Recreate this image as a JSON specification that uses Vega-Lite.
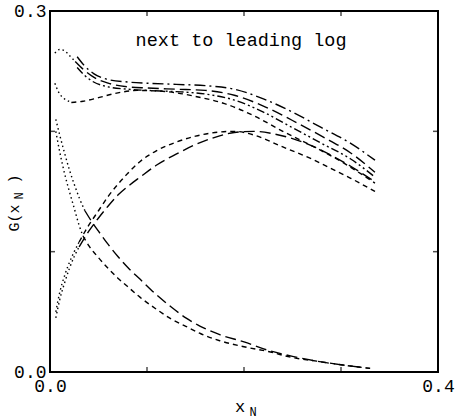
{
  "$schema": "https://vega.github.io/schema/vega-lite/v6.json",
  "autosize": {"type": "none"},
  "width": 388,
  "height": 361,
  "padding": {"left": 50, "top": 11, "right": 17, "bottom": 47},
  "background": "white",
  "config": {
    "view": {"stroke": "black", "strokeWidth": 2},
    "axis": {
      "domain": false,
      "grid": false,
      "ticks": false,
      "labelFont": "Liberation Mono",
      "labelFontSize": 18,
      "labelColor": "black",
      "labelFlush": false,
      "labelOverlap": false
    },
    "text": {"font": "Liberation Mono", "color": "black"}
  },
  "datasets": {
    "xTicks": [{"t": 0.1, "edge": 0}, {"t": 0.2, "edge": 0}, {"t": 0.3, "edge": 0}, {"t": 0.1, "edge": 0.3}, {"t": 0.2, "edge": 0.3}, {"t": 0.3, "edge": 0.3}],
    "yTicks": [{"t": 0.1, "edge": 0}, {"t": 0.2, "edge": 0}, {"t": 0.1, "edge": 0.4}, {"t": 0.2, "edge": 0.4}],
    "curves": [
      {"seg": "U1", "style": "dashdot", "x": 0.028, "y": 0.262},
      {"seg": "U1", "style": "dashdot", "x": 0.035, "y": 0.255},
      {"seg": "U1", "style": "dashdot", "x": 0.045, "y": 0.248},
      {"seg": "U1", "style": "dashdot", "x": 0.06, "y": 0.243},
      {"seg": "U1", "style": "dashdot", "x": 0.08, "y": 0.241},
      {"seg": "U1", "style": "dashdot", "x": 0.1, "y": 0.24},
      {"seg": "U1", "style": "dashdot", "x": 0.13, "y": 0.239},
      {"seg": "U1", "style": "dashdot", "x": 0.16, "y": 0.238},
      {"seg": "U1", "style": "dashdot", "x": 0.19, "y": 0.235},
      {"seg": "U1", "style": "dashdot", "x": 0.22, "y": 0.227},
      {"seg": "U1", "style": "dashdot", "x": 0.25, "y": 0.216},
      {"seg": "U1", "style": "dashdot", "x": 0.28, "y": 0.203},
      {"seg": "U1", "style": "dashdot", "x": 0.31, "y": 0.19},
      {"seg": "U1", "style": "dashdot", "x": 0.335, "y": 0.176},

      {"seg": "U2a", "style": "dot", "x": 0.005, "y": 0.265},
      {"seg": "U2a", "style": "dot", "x": 0.01, "y": 0.268},
      {"seg": "U2a", "style": "dot", "x": 0.015, "y": 0.267},
      {"seg": "U2a", "style": "dot", "x": 0.02, "y": 0.263},
      {"seg": "U2a", "style": "dot", "x": 0.026, "y": 0.258},
      {"seg": "U2b", "style": "long", "x": 0.026, "y": 0.258},
      {"seg": "U2b", "style": "long", "x": 0.035, "y": 0.251},
      {"seg": "U2b", "style": "long", "x": 0.045, "y": 0.245},
      {"seg": "U2b", "style": "long", "x": 0.06, "y": 0.24},
      {"seg": "U2b", "style": "long", "x": 0.08, "y": 0.237},
      {"seg": "U2b", "style": "long", "x": 0.1, "y": 0.236},
      {"seg": "U2b", "style": "long", "x": 0.13, "y": 0.235},
      {"seg": "U2b", "style": "long", "x": 0.16, "y": 0.234},
      {"seg": "U2b", "style": "long", "x": 0.19, "y": 0.23},
      {"seg": "U2b", "style": "long", "x": 0.22, "y": 0.221},
      {"seg": "U2b", "style": "long", "x": 0.25, "y": 0.209},
      {"seg": "U2b", "style": "long", "x": 0.28, "y": 0.196},
      {"seg": "U2b", "style": "long", "x": 0.31, "y": 0.182},
      {"seg": "U2b", "style": "long", "x": 0.335, "y": 0.166},

      {"seg": "U3", "style": "dashdotdot", "x": 0.028, "y": 0.253},
      {"seg": "U3", "style": "dashdotdot", "x": 0.035, "y": 0.247},
      {"seg": "U3", "style": "dashdotdot", "x": 0.045, "y": 0.241},
      {"seg": "U3", "style": "dashdotdot", "x": 0.06, "y": 0.237},
      {"seg": "U3", "style": "dashdotdot", "x": 0.08, "y": 0.235},
      {"seg": "U3", "style": "dashdotdot", "x": 0.1, "y": 0.234},
      {"seg": "U3", "style": "dashdotdot", "x": 0.13, "y": 0.233},
      {"seg": "U3", "style": "dashdotdot", "x": 0.16, "y": 0.231},
      {"seg": "U3", "style": "dashdotdot", "x": 0.19, "y": 0.226},
      {"seg": "U3", "style": "dashdotdot", "x": 0.22, "y": 0.216},
      {"seg": "U3", "style": "dashdotdot", "x": 0.25, "y": 0.203},
      {"seg": "U3", "style": "dashdotdot", "x": 0.28, "y": 0.19},
      {"seg": "U3", "style": "dashdotdot", "x": 0.31, "y": 0.177},
      {"seg": "U3", "style": "dashdotdot", "x": 0.335, "y": 0.162},

      {"seg": "U4a", "style": "dot", "x": 0.005, "y": 0.24},
      {"seg": "U4a", "style": "dot", "x": 0.008, "y": 0.234},
      {"seg": "U4a", "style": "dot", "x": 0.012, "y": 0.229},
      {"seg": "U4a", "style": "dot", "x": 0.017, "y": 0.226},
      {"seg": "U4a", "style": "dot", "x": 0.022, "y": 0.224},
      {"seg": "U4b", "style": "short", "x": 0.022, "y": 0.224},
      {"seg": "U4b", "style": "short", "x": 0.034, "y": 0.225},
      {"seg": "U4b", "style": "short", "x": 0.05, "y": 0.228},
      {"seg": "U4b", "style": "short", "x": 0.07, "y": 0.232},
      {"seg": "U4b", "style": "short", "x": 0.09, "y": 0.234},
      {"seg": "U4b", "style": "short", "x": 0.12, "y": 0.233},
      {"seg": "U4b", "style": "short", "x": 0.15, "y": 0.229},
      {"seg": "U4b", "style": "short", "x": 0.18, "y": 0.223},
      {"seg": "U4b", "style": "short", "x": 0.21, "y": 0.213},
      {"seg": "U4b", "style": "short", "x": 0.24, "y": 0.2},
      {"seg": "U4b", "style": "short", "x": 0.27, "y": 0.188},
      {"seg": "U4b", "style": "short", "x": 0.3, "y": 0.175},
      {"seg": "U4b", "style": "short", "x": 0.335, "y": 0.157},

      {"seg": "M1a", "style": "dot", "x": 0.006, "y": 0.05},
      {"seg": "M1a", "style": "dot", "x": 0.01, "y": 0.066},
      {"seg": "M1a", "style": "dot", "x": 0.015, "y": 0.08},
      {"seg": "M1a", "style": "dot", "x": 0.02, "y": 0.091},
      {"seg": "M1a", "style": "dot", "x": 0.025, "y": 0.1},
      {"seg": "M1a", "style": "dot", "x": 0.03, "y": 0.108},
      {"seg": "M1b", "style": "short", "x": 0.03, "y": 0.108},
      {"seg": "M1b", "style": "short", "x": 0.04, "y": 0.122},
      {"seg": "M1b", "style": "short", "x": 0.05, "y": 0.134},
      {"seg": "M1b", "style": "short", "x": 0.06, "y": 0.146},
      {"seg": "M1b", "style": "short", "x": 0.07, "y": 0.156},
      {"seg": "M1b", "style": "short", "x": 0.08, "y": 0.165},
      {"seg": "M1b", "style": "short", "x": 0.093, "y": 0.175},
      {"seg": "M1b", "style": "short", "x": 0.11, "y": 0.184},
      {"seg": "M1b", "style": "short", "x": 0.13, "y": 0.191},
      {"seg": "M1b", "style": "short", "x": 0.15, "y": 0.196},
      {"seg": "M1b", "style": "short", "x": 0.17, "y": 0.199},
      {"seg": "M1b", "style": "short", "x": 0.19, "y": 0.2},
      {"seg": "M1b", "style": "short", "x": 0.21, "y": 0.197},
      {"seg": "M1b", "style": "short", "x": 0.24, "y": 0.187},
      {"seg": "M1b", "style": "short", "x": 0.27, "y": 0.177},
      {"seg": "M1b", "style": "short", "x": 0.29, "y": 0.169},
      {"seg": "M1b", "style": "short", "x": 0.31, "y": 0.161},
      {"seg": "M1b", "style": "short", "x": 0.335, "y": 0.15},

      {"seg": "M2a", "style": "dot", "x": 0.006, "y": 0.045},
      {"seg": "M2a", "style": "dot", "x": 0.01, "y": 0.06},
      {"seg": "M2a", "style": "dot", "x": 0.015, "y": 0.074},
      {"seg": "M2a", "style": "dot", "x": 0.02, "y": 0.086},
      {"seg": "M2a", "style": "dot", "x": 0.025, "y": 0.096},
      {"seg": "M2a", "style": "dot", "x": 0.03, "y": 0.104},
      {"seg": "M2b", "style": "long", "x": 0.03, "y": 0.104},
      {"seg": "M2b", "style": "long", "x": 0.04, "y": 0.117},
      {"seg": "M2b", "style": "long", "x": 0.05, "y": 0.128},
      {"seg": "M2b", "style": "long", "x": 0.06, "y": 0.138},
      {"seg": "M2b", "style": "long", "x": 0.07, "y": 0.147},
      {"seg": "M2b", "style": "long", "x": 0.08, "y": 0.154},
      {"seg": "M2b", "style": "long", "x": 0.093, "y": 0.162},
      {"seg": "M2b", "style": "long", "x": 0.11, "y": 0.172},
      {"seg": "M2b", "style": "long", "x": 0.13, "y": 0.181},
      {"seg": "M2b", "style": "long", "x": 0.15, "y": 0.189},
      {"seg": "M2b", "style": "long", "x": 0.17, "y": 0.195},
      {"seg": "M2b", "style": "long", "x": 0.19, "y": 0.199},
      {"seg": "M2b", "style": "long", "x": 0.21, "y": 0.2},
      {"seg": "M2b", "style": "long", "x": 0.23, "y": 0.198},
      {"seg": "M2b", "style": "long", "x": 0.25, "y": 0.194},
      {"seg": "M2b", "style": "long", "x": 0.27, "y": 0.188},
      {"seg": "M2b", "style": "long", "x": 0.29, "y": 0.18},
      {"seg": "M2b", "style": "long", "x": 0.31, "y": 0.171},
      {"seg": "M2b", "style": "long", "x": 0.335, "y": 0.158},

      {"seg": "F1a", "style": "dot", "x": 0.006, "y": 0.21},
      {"seg": "F1a", "style": "dot", "x": 0.01, "y": 0.197},
      {"seg": "F1a", "style": "dot", "x": 0.015, "y": 0.182},
      {"seg": "F1a", "style": "dot", "x": 0.02, "y": 0.168},
      {"seg": "F1a", "style": "dot", "x": 0.025, "y": 0.156},
      {"seg": "F1a", "style": "dot", "x": 0.03, "y": 0.145},
      {"seg": "F1a", "style": "dot", "x": 0.036, "y": 0.134},
      {"seg": "F1b", "style": "long", "x": 0.036, "y": 0.134},
      {"seg": "F1b", "style": "long", "x": 0.043, "y": 0.125},
      {"seg": "F1b", "style": "long", "x": 0.05, "y": 0.117},
      {"seg": "F1b", "style": "long", "x": 0.06, "y": 0.106},
      {"seg": "F1b", "style": "long", "x": 0.07, "y": 0.096},
      {"seg": "F1b", "style": "long", "x": 0.08, "y": 0.087},
      {"seg": "F1b", "style": "long", "x": 0.093, "y": 0.077},
      {"seg": "F1b", "style": "long", "x": 0.11, "y": 0.064},
      {"seg": "F1b", "style": "long", "x": 0.125, "y": 0.054},
      {"seg": "F1b", "style": "long", "x": 0.14, "y": 0.045},
      {"seg": "F1b", "style": "long", "x": 0.155, "y": 0.038},
      {"seg": "F1b", "style": "long", "x": 0.175, "y": 0.031},
      {"seg": "F1b", "style": "long", "x": 0.2, "y": 0.025},
      {"seg": "F1b", "style": "long", "x": 0.225, "y": 0.018},
      {"seg": "F1b", "style": "long", "x": 0.25, "y": 0.013},
      {"seg": "F1b", "style": "long", "x": 0.275, "y": 0.009},
      {"seg": "F1b", "style": "long", "x": 0.3, "y": 0.006},
      {"seg": "F1b", "style": "long", "x": 0.33, "y": 0.003},

      {"seg": "F2a", "style": "dot", "x": 0.006, "y": 0.2},
      {"seg": "F2a", "style": "dot", "x": 0.01, "y": 0.183},
      {"seg": "F2a", "style": "dot", "x": 0.015, "y": 0.165},
      {"seg": "F2a", "style": "dot", "x": 0.02, "y": 0.15},
      {"seg": "F2a", "style": "dot", "x": 0.025, "y": 0.136},
      {"seg": "F2a", "style": "dot", "x": 0.03, "y": 0.122},
      {"seg": "F2a", "style": "dot", "x": 0.034, "y": 0.113},
      {"seg": "F2b", "style": "short", "x": 0.034, "y": 0.113},
      {"seg": "F2b", "style": "short", "x": 0.04, "y": 0.105},
      {"seg": "F2b", "style": "short", "x": 0.05, "y": 0.095},
      {"seg": "F2b", "style": "short", "x": 0.06, "y": 0.086},
      {"seg": "F2b", "style": "short", "x": 0.07, "y": 0.078},
      {"seg": "F2b", "style": "short", "x": 0.08, "y": 0.071},
      {"seg": "F2b", "style": "short", "x": 0.093, "y": 0.062},
      {"seg": "F2b", "style": "short", "x": 0.11, "y": 0.052},
      {"seg": "F2b", "style": "short", "x": 0.125, "y": 0.044},
      {"seg": "F2b", "style": "short", "x": 0.14, "y": 0.038},
      {"seg": "F2b", "style": "short", "x": 0.155, "y": 0.032},
      {"seg": "F2b", "style": "short", "x": 0.175, "y": 0.026},
      {"seg": "F2b", "style": "short", "x": 0.2, "y": 0.021},
      {"seg": "F2b", "style": "short", "x": 0.225, "y": 0.017},
      {"seg": "F2b", "style": "short", "x": 0.25, "y": 0.012},
      {"seg": "F2b", "style": "short", "x": 0.275, "y": 0.009},
      {"seg": "F2b", "style": "short", "x": 0.3, "y": 0.006},
      {"seg": "F2b", "style": "short", "x": 0.33, "y": 0.003}
    ]
  },
  "layer": [
    {
      "data": {"name": "curves"},
      "mark": {"type": "line", "color": "black", "strokeWidth": 1.4, "interpolate": "monotone"},
      "encoding": {
        "x": {
          "field": "x", "type": "quantitative",
          "scale": {"domain": [0, 0.4], "nice": false, "zero": false},
          "axis": {
            "orient": "bottom", "title": null,
            "values": [0, 0.1, 0.2, 0.3, 0.4],
            "labelExpr": "datum.value < 0.05 || datum.value > 0.35 ? format(datum.value, '.1f') : ''",
            "labelPadding": 5
          }
        },
        "y": {
          "field": "y", "type": "quantitative",
          "scale": {"domain": [0, 0.3], "nice": false, "zero": false},
          "axis": {
            "orient": "left", "title": null,
            "values": [0, 0.1, 0.2, 0.3],
            "labelExpr": "datum.value < 0.05 || datum.value > 0.25 ? format(datum.value, '.1f') : ''",
            "labelPadding": 4
          }
        },
        "detail": {"field": "seg"},
        "strokeDash": {
          "field": "style", "type": "nominal", "legend": null,
          "scale": {
            "domain": ["dot", "short", "long", "dashdot", "dashdotdot"],
            "range": [[1.5, 3], [5, 4], [11, 5], [11, 4, 2, 4], [8, 3, 2, 3, 2, 3]]
          }
        }
      }
    },
    {
      "data": {"name": "xTicks"},
      "mark": {"type": "tick", "orient": "vertical", "color": "black", "size": 10, "thickness": 1.5, "clip": true},
      "encoding": {
        "x": {"field": "t", "type": "quantitative"},
        "y": {"field": "edge", "type": "quantitative"}
      }
    },
    {
      "data": {"name": "yTicks"},
      "mark": {"type": "tick", "orient": "horizontal", "color": "black", "size": 10, "thickness": 1.5, "clip": true},
      "encoding": {
        "x": {"field": "edge", "type": "quantitative"},
        "y": {"field": "t", "type": "quantitative"}
      }
    },
    {
      "data": {"values": [{"label": "next to leading log", "x": 0.197, "y": 0.276}]},
      "mark": {"type": "text", "fontSize": 18.5, "align": "center", "baseline": "middle"},
      "encoding": {
        "x": {"field": "x", "type": "quantitative"},
        "y": {"field": "y", "type": "quantitative"},
        "text": {"field": "label"}
      }
    },
    {
      "data": {"values": [{"label": "x", "x": 0.2, "y": 0}]},
      "mark": {"type": "text", "fontSize": 17, "align": "center", "baseline": "middle", "dx": -4, "dy": 35},
      "encoding": {
        "x": {"field": "x", "type": "quantitative"},
        "y": {"field": "y", "type": "quantitative"},
        "text": {"field": "label"}
      }
    },
    {
      "data": {"values": [{"label": "N", "x": 0.2, "y": 0}]},
      "mark": {"type": "text", "fontSize": 12, "align": "center", "baseline": "middle", "dx": 9, "dy": 40},
      "encoding": {
        "x": {"field": "x", "type": "quantitative"},
        "y": {"field": "y", "type": "quantitative"},
        "text": {"field": "label"}
      }
    },
    {
      "data": {"values": [{"label": "G(x", "x": 0, "y": 0.14}]},
      "mark": {"type": "text", "fontSize": 15, "align": "center", "baseline": "middle", "angle": 270, "dx": -14.4, "dy": -36},
      "encoding": {
        "x": {"field": "x", "type": "quantitative"},
        "y": {"field": "y", "type": "quantitative"},
        "text": {"field": "label"}
      }
    },
    {
      "data": {"values": [{"label": "N", "x": 0, "y": 0.14}]},
      "mark": {"type": "text", "fontSize": 12, "align": "center", "baseline": "middle", "angle": 270, "dx": 7.6, "dy": -31.5},
      "encoding": {
        "x": {"field": "x", "type": "quantitative"},
        "y": {"field": "y", "type": "quantitative"},
        "text": {"field": "label"}
      }
    },
    {
      "data": {"values": [{"label": ")", "x": 0, "y": 0.14}]},
      "mark": {"type": "text", "fontSize": 15, "align": "center", "baseline": "middle", "angle": 270, "dx": 24.6, "dy": -36},
      "encoding": {
        "x": {"field": "x", "type": "quantitative"},
        "y": {"field": "y", "type": "quantitative"},
        "text": {"field": "label"}
      }
    }
  ]
}
